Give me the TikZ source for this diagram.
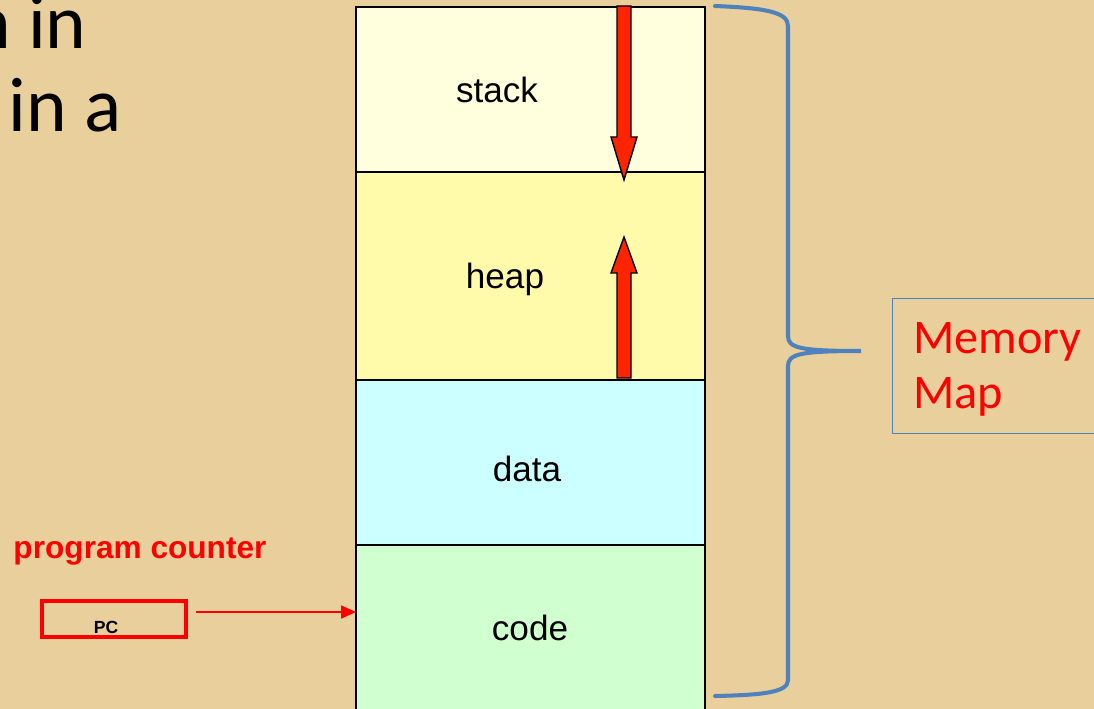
\documentclass[tikz,border=0pt]{standalone}
\usepackage{fontspec}
\setmainfont{Liberation Sans}
\newfontfamily\slidefont{Carlito}
\usetikzlibrary{positioning, arrows.meta}
\definecolor{parchment}{RGB}{232,207,155}
\definecolor{stackfill}{RGB}{255,255,221}
\definecolor{heapfill}{RGB}{255,251,170}
\definecolor{datafill}{RGB}{204,255,255}
\definecolor{codefill}{RGB}{208,255,208}
\definecolor{braceblue}{RGB}{79,129,189}
\definecolor{growred}{RGB}{255,36,0}
\tikzset{
	segment/.style={draw, line width=1pt, fill=#1, minimum width=6.98cm, inner sep=0pt, outer sep=0pt},
	seglabel/.style={font=\fontsize{20}{24}\selectfont},
	growth/.style={draw=black, line width=0.8pt, fill=growred},
	slidetext/.style={font=\slidefont\fontsize{44}{52}\selectfont, anchor=base east, inner sep=0pt}}

\begin{document}
\begin{tikzpicture}[x=0.02cm, y=-0.02cm]
    \useasboundingbox (0,0) rectangle (1094,709);
    \clip (0,0) rectangle (1094,709);
    \fill[parchment] (0,0) rectangle (1094,709);

    \node[slidetext] (linea) at (87,49) {n in};
    \node[slidetext] (lineb) at (122,132) {e in a};

    \node[segment=stackfill, minimum height=3.3cm, anchor=north west] (stack) at (356,7) {};
    \node[segment=heapfill, minimum height=4.16cm, below=0pt of stack] (heap) {};
    \node[segment=datafill, minimum height=3.3cm, below=0pt of heap] (data) {};
    \node[segment=codefill, minimum height=3.5cm, below=0pt of data] (code) {};

    \node[seglabel] (stacklbl) at (497,90) {stack};
    \node[seglabel] (heaplbl) at (505,279) {heap};
    \node[seglabel] (datalbl) at (527,469) {data};
    \node[seglabel] (codelbl) at (530,628) {code};

    \draw[growth] (617,6) -- (631,6) -- (631,137) -- (637,137) -- (624,180) -- (611,137) -- (617,137) -- cycle;
    \draw[growth] (617,378) -- (631,378) -- (631,273) -- (637,273) -- (624,237) -- (611,273) -- (617,273) -- cycle;

    \draw[braceblue, line width=2.3pt, line cap=round]
        (715,6) .. controls (765,8) and (788,12) .. (788,26) -- (788,336)
        .. controls (788,348) and (800,351) .. (861,351)
        .. controls (800,351) and (788,354) .. (788,366) -- (788,680)
        .. controls (788,692) and (765,695) .. (715,696);

    \node[draw=braceblue, line width=0.7pt, anchor=north west, minimum width=4.4cm, minimum height=2.7cm] (memmap) at (892,298) {};
    \node[anchor=base west, inner sep=0pt, align=left, text=red,
        font=\slidefont\fontsize{27.5}{31.3}\selectfont] (memtext) at (913,408) {Memory\\Map};

    \node[font=\bfseries\fontsize{18}{22}\selectfont, text=red] (pclabel) at (140,552) {program counter};
    \node[draw=red, line width=2.3pt, minimum width=2.88cm, minimum height=0.72cm, inner sep=0pt] (pc) at (114,619) {};
    \node[font=\bfseries\fontsize{10}{12}\selectfont] (pctext) at (106,627) {PC};
    \draw[red, line width=1.2pt, -{Triangle[length=0.3cm,width=0.26cm]}]
        ([xshift=0.16cm, yshift=0.14cm]pc.east) -- ([yshift=0.14cm]pc.east -| code.west);
\end{tikzpicture}
\end{document}
